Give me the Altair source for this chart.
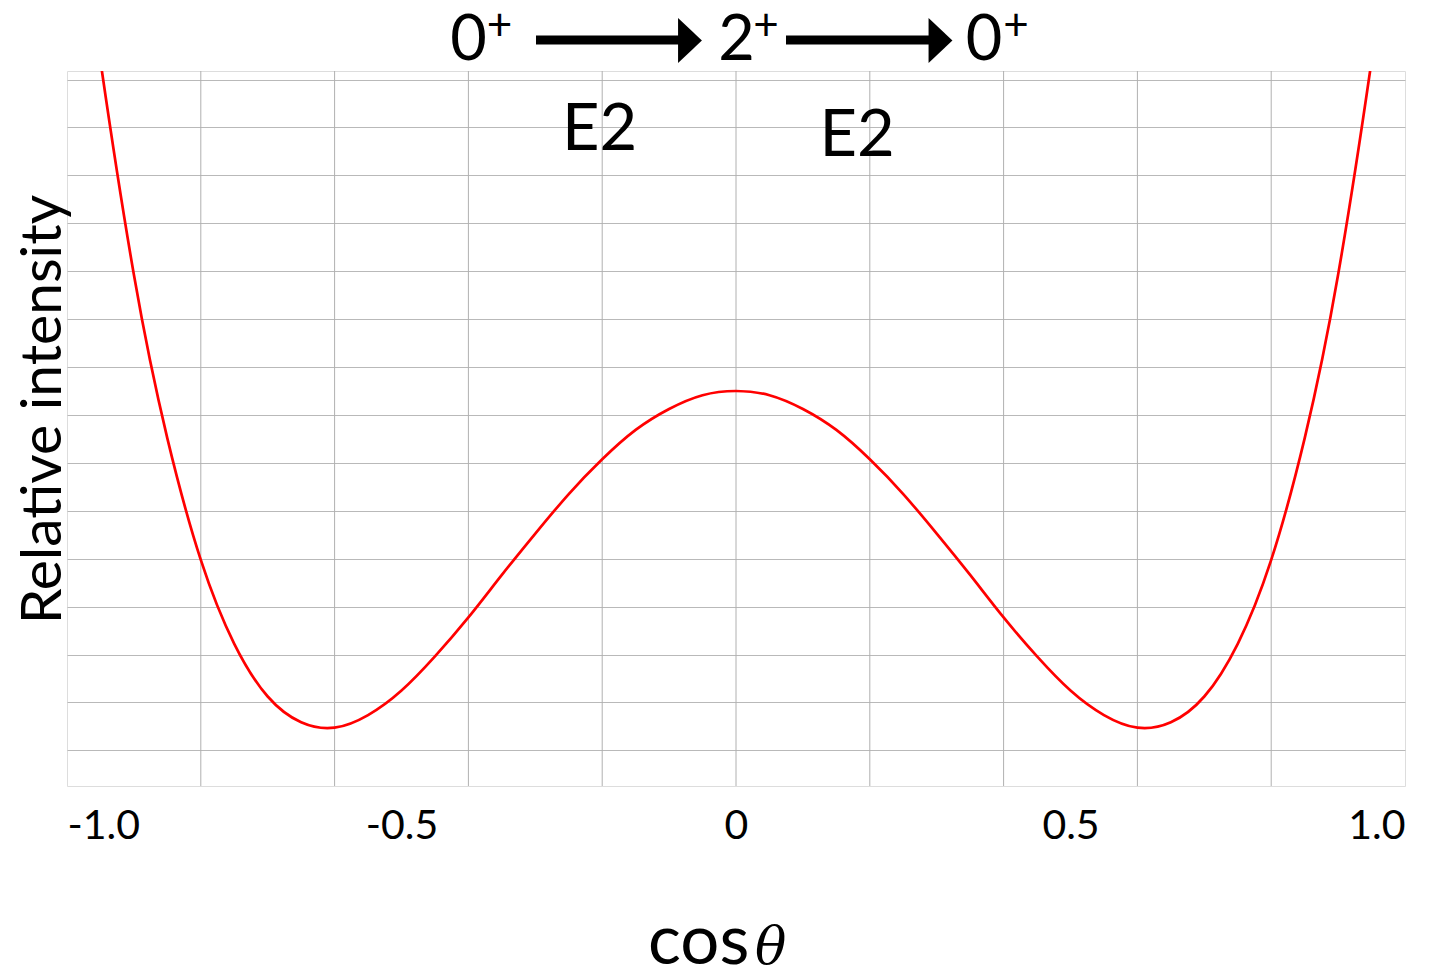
import altair as alt
import pandas as pd

# --- data ---
cos_theta = [-0.97, -0.95, -0.90, -0.85, -0.80, -0.75, -0.70, -0.65, -0.60, -0.55,
             -0.50, -0.45, -0.40, -0.35, -0.30, -0.25, -0.20, -0.15, -0.10, -0.05,
             0.00, 0.05, 0.10, 0.15, 0.20, 0.25, 0.30, 0.35, 0.40, 0.45,
             0.50, 0.55, 0.60, 0.65, 0.70, 0.75, 0.80, 0.85, 0.90, 0.95, 0.97]
intensity = [1.719, 1.551, 1.194, 0.921, 0.718, 0.578, 0.490, 0.447, 0.438, 0.459,
             0.500, 0.557, 0.622, 0.693, 0.762, 0.828, 0.886, 0.935, 0.970, 0.993,
             1.000, 0.993, 0.970, 0.935, 0.886, 0.828, 0.762, 0.693, 0.622, 0.557,
             0.500, 0.459, 0.438, 0.447, 0.490, 0.578, 0.718, 0.921, 1.194, 1.551, 1.719]

x_label_values = [-1.0, -0.5, 0.0, 0.5, 1.0]
x_grid = [-0.8, -0.6, -0.4, -0.2, 0.0, 0.2, 0.4, 0.6, 0.8]
y_grid = [0.40, 0.48, 0.56, 0.64, 0.72, 0.80, 0.88, 0.96, 1.04, 1.12, 1.20,
          1.28, 1.36, 1.44, 1.52]

levels = ["0", "2", "0"]
parity = ["+", "+", "+"]
transition = ["E2", "E2"]
x_title = "cos"
x_title_symbol = "θ"
y_title = "Relative intensity"

FONT = "Lato"
GRID = "#b9b9b9"

df = pd.DataFrame({"c": cos_theta, "w": intensity})

x_scale = alt.Scale(domain=[-1.0, 1.0], nice=False, zero=False)
y_scale = alt.Scale(domain=[0.3406, 1.5342], nice=False, zero=False)

curve = alt.Chart(df).mark_line(color="#ff0000", strokeWidth=2.7,
                                interpolate="natural", clip=True).encode(
    x=alt.X("c:Q", scale=x_scale,
            axis=alt.Axis(values=x_label_values, title=None, grid=False,
                          ticks=False, tickSize=0, domain=False, labelFlush=True,
                          labelFont=FONT, labelFontSize=41, labelColor="black",
                          labelBaseline="alphabetic", labelPadding=52,
                          labelExpr="datum.value == 0 ? '0' : (datum.value < 0 ? '-' : '') + format(abs(datum.value), '.1f')")),
    y=alt.Y("w:Q", scale=y_scale,
            axis=alt.Axis(values=y_grid, labels=False, ticks=False, domain=False,
                          grid=True, gridColor=GRID, gridWidth=1,
                          title=y_title, titleFont=FONT, titleFontSize=57,
                          titleFontWeight="normal", titleColor="black",
                          titleAngle=270, titleAlign="center",
                          titleBaseline="alphabetic", titleX=-7, titleY=338)),
)

vgrid = alt.Chart(pd.DataFrame({"g": x_grid})).mark_rule(
    color="#b0b0b0", strokeWidth=1).encode(x=alt.X("g:Q", scale=x_scale))


def label(txt, x, y, size, font=FONT, align="center", style="normal"):
    return alt.Chart(pd.DataFrame({"t": [txt]})).mark_text(
        font=font, fontSize=size, color="black", align=align,
        baseline="alphabetic", fontStyle=style).encode(
        text="t:N", x=alt.value(x), y=alt.value(y))


def shaft(x1, x2, y):
    return alt.Chart(pd.DataFrame({"k": [0]})).mark_rule(
        color="black", strokeWidth=9, strokeCap="butt").encode(
        x=alt.value(x1), x2=alt.value(x2), y=alt.value(y))


def head(x, y):
    return alt.Chart(pd.DataFrame({"k": [0]})).mark_point(
        shape="M-0.53,-1L0.53,0L-0.53,1Z", size=2025, filled=True,
        color="black", opacity=1, strokeWidth=0).encode(
        x=alt.value(x), y=alt.value(y))


annotations = [
    label(levels[0], 401.5, -11, 63),
    label(parity[0], 432.5, -31.5, 44),
    label(levels[1], 669.5, -11, 63),
    label(parity[1], 699, -31.5, 44),
    label(levels[2], 917, -11, 63),
    label(parity[2], 949, -31.5, 44),
    label(transition[0], 532.5, 79, 65),
    label(transition[1], 790, 85, 65),
    shaft(469, 616, -31), head(623, -30.5),
    shaft(719, 866, -31), head(873.5, -30.5),
    label(x_title, 581, 893, 69, align="left"),
    label(x_title_symbol, 688, 893, 52, font="DejaVu Serif", align="left", style="italic"),
]

chart = alt.layer(vgrid, curve, *annotations).properties(
    width=1338, height=715,
    autosize=alt.AutoSizeParams(type="none"),
    padding={"left": 59, "top": 63, "right": 19, "bottom": 180},
).configure_view(stroke=None).configure(background="white")

chart.save("out.html", embed_options={"renderer": "svg", "actions": False})
